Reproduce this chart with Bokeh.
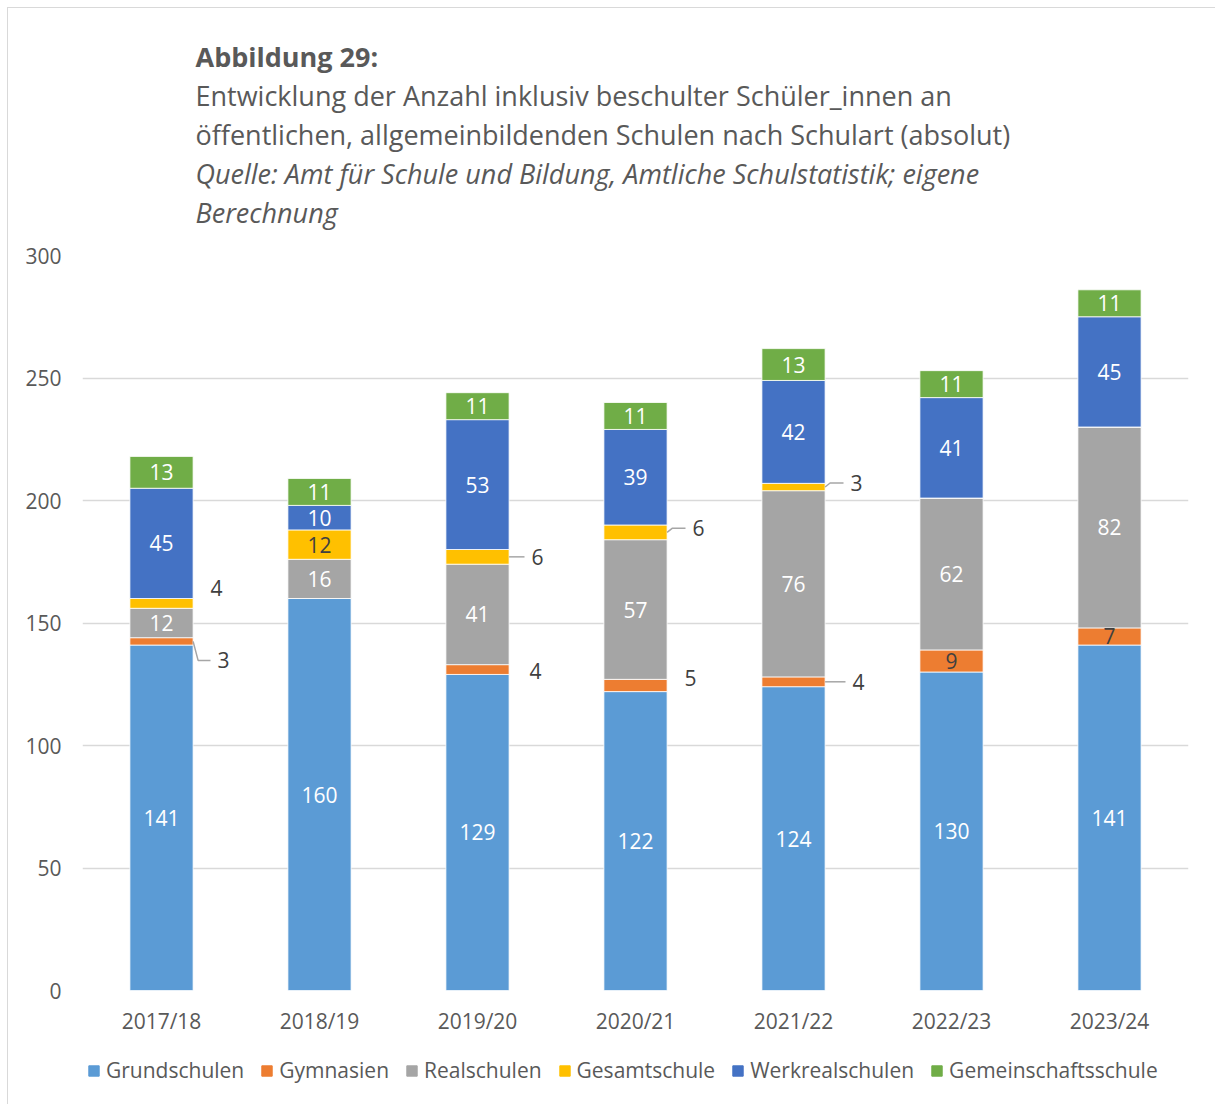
from bokeh.plotting import figure
from bokeh.layouts import column
from bokeh.models import (ColumnDataSource, FixedTicker, Legend, LegendItem, Title, Range1d)
from bokeh.core.properties import value
from bokeh.embed import file_html
from bokeh.resources import INLINE

# ---------------- data ----------------
years = ["2017/18", "2018/19", "2019/20", "2020/21", "2021/22", "2022/23", "2023/24"]
series_names = ["Grundschulen", "Gymnasien", "Realschulen", "Gesamtschule",
                "Werkrealschulen", "Gemeinschaftsschule"]
grundschulen = [141, 160, 129, 122, 124, 130, 141]
gymnasien = [3, 0, 4, 5, 4, 9, 7]
realschulen = [12, 16, 41, 57, 76, 62, 82]
gesamtschule = [4, 12, 6, 6, 3, 0, 0]
werkrealschulen = [45, 10, 53, 39, 42, 41, 45]
gemeinschaftsschule = [13, 11, 11, 11, 13, 11, 11]
y_ticks = [0, 50, 100, 150, 200, 250, 300]

title_bold = "Abbildung 29:"
title_lines = ["Entwicklung der Anzahl inklusiv beschulter Schüler_innen an",
               "öffentlichen, allgemeinbildenden Schulen nach Schulart (absolut)"]
source_lines = ["Quelle: Amt für Schule und Bildung, Amtliche Schulstatistik; eigene",
                "Berechnung"]

# ---------------- style ----------------
colors = ["#5B9BD5", "#ED7D31", "#A5A5A5", "#FFC000", "#4472C4", "#70AD47"]
label_colors = ["white", "#404040", "white", "#404040", "white", "white"]
TXT = "#595959"
DARK = "#404040"
FONT = "Open Sans"

# callouts for small segments: (year idx, series idx, dx px, dy px (down), leader)
callouts = [(0, 1, 62, 19, True), (0, 3, 55, -15, False),
            (2, 3, 60, 0, True), (2, 1, 58, 1, False),
            (3, 3, 63, -4, True), (3, 1, 55, -7, False),
            (4, 3, 63, -4, True), (4, 1, 65, 0, True)]

FW = 1207
FH = 1030          # main chart
LH = 66            # legend strip
L, R, T, B = 74, 27, 247, 48
frame_w = FW - L - R
frame_h = FH - T - B
px_x = frame_w / 7.0
px_y = frame_h / 300.0
BAR_W = 0.4

all_series = [grundschulen, gymnasien, realschulen, gesamtschule, werkrealschulen, gemeinschaftsschule]
xs = list(range(len(years)))

data = {"x": xs}
for name, vals in zip(series_names, all_series):
    data[name] = vals
src = ColumnDataSource(data)

p = figure(width=FW, height=FH, x_range=Range1d(-0.5, 6.5), y_range=Range1d(0, 300),
           output_backend="svg", toolbar_location=None,
           min_border_left=L, min_border_right=R, min_border_top=T, min_border_bottom=B)
p.outline_line_color = None
p.background_fill_color = "white"
p.border_fill_color = "white"
p.title.text = ""

renderers = p.vbar_stack(series_names, x="x", width=BAR_W, color=colors,
                         line_color="white", line_width=0.8, source=src)

# axes
p.yaxis.ticker = FixedTicker(ticks=y_ticks)
p.xaxis.ticker = FixedTicker(ticks=xs)
p.xaxis.major_label_overrides = {i: y for i, y in enumerate(years)}
for ax in (p.xaxis[0], p.yaxis[0]):
    ax.axis_line_color = None
    ax.major_tick_line_color = None
    ax.minor_tick_line_color = None
    ax.major_label_text_font = FONT
    ax.major_label_text_font_size = "21px"
    ax.major_label_text_color = TXT
p.yaxis.major_label_standoff = 15
p.xaxis.major_label_standoff = 10
p.xgrid.grid_line_color = None
p.ygrid.grid_line_color = "#d9d9d9"
p.ygrid.grid_line_width = 1.5

# segment labels
in_x, in_y, in_t, in_c = [], [], [], []
out_x, out_y, out_t = [], [], []
lead_xs, lead_ys = [], []
call_map = {(c[0], c[1]): c for c in callouts}
for i in xs:
    base = 0
    for s, vals in enumerate(all_series):
        v = vals[i]
        mid = base + v / 2.0
        base += v
        if v == 0:
            continue
        if (i, s) in call_map:
            _, _, dx, dy, lead = call_map[(i, s)]
            lx = i + dx / px_x
            ly = mid - dy / px_y
            out_x.append(lx); out_y.append(ly); out_t.append(str(v))
            if lead:
                edge = i + BAR_W / 2
                end = lx - 13 / px_x
                if abs(dy) > 1:
                    lead_xs.append([edge, edge + 5 / px_x, end])
                    lead_ys.append([mid, ly, ly])
                else:
                    lead_xs.append([edge, end])
                    lead_ys.append([mid, mid])
        else:
            in_x.append(i); in_y.append(mid); in_t.append(str(v)); in_c.append(label_colors[s])

p.text(x=in_x, y=in_y, text=in_t, text_color=in_c, text_align="center",
       text_baseline="middle", text_font=value(FONT), text_font_size="21px")
p.multi_line(xs=lead_xs, ys=lead_ys, line_color="#a6a6a6", line_width=1.5)
p.text(x=out_x, y=out_y, text=out_t, text_color=DARK, text_align="center",
       text_baseline="middle", text_font=value(FONT), text_font_size="21px")

# title block: Titles stacked above the frame (first added = closest to frame)
TX = 113
p.add_layout(Title(text=" ", text_font_size="12px", standoff=9), "above")
for txt, style in [(source_lines[1], "italic"), (source_lines[0], "italic"),
                   (title_lines[1], "normal"), (title_lines[0], "normal"),
                   (title_bold, "bold")]:
    p.add_layout(Title(text=txt, align="left", offset=TX, standoff=0,
                       text_font=FONT, text_font_size="27px", text_font_style=style,
                       text_color=TXT), "above")

# legend strip (separate figure, legend inside its frame)
lp = figure(width=FW, height=LH, x_range=Range1d(0, 1), y_range=Range1d(0, 1),
            x_axis_type=None, y_axis_type=None, output_backend="svg",
            toolbar_location=None, min_border=0)
lp.title.text = ""
lp.outline_line_color = None
lp.grid.visible = False
lp.background_fill_color = "white"
lp.border_fill_color = "white"
# legend swatch renderers: one bar each, placed outside the visible range
swatch_src = ColumnDataSource({"x": [-5], "top": [0]})
dummies = [lp.vbar(x="x", top="top", width=0.1, fill_color=c, line_color=c, source=swatch_src)
           for c in colors]
items = [LegendItem(label=n, renderers=[r]) for n, r in zip(series_names, dummies)]
legend = Legend(items=items, orientation="horizontal", location=(5, 20),
                label_text_font=FONT, label_text_font_size="21px", label_text_color=TXT,
                glyph_width=13, glyph_height=13, label_standoff=6, spacing=16,
                padding=0, margin=0, border_line_color=None, background_fill_alpha=0)
lp.add_layout(legend, "center")

layout = column(p, lp, spacing=0)
layout.styles = {"margin-left": "8px", "margin-top": "8px", "box-shadow": "0 0 0 1px #d9d9d9"}

open("out.html", "w").write(file_html(layout, INLINE))
